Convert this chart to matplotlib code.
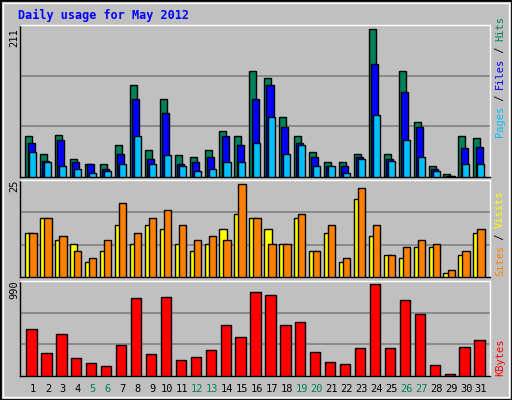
import numpy as np
import matplotlib.pyplot as plt
from matplotlib.patches import Rectangle

# dados
dias = list(range(1, 32))
hits = [58, 33, 60, 26, 19, 18, 46, 132, 39, 111, 31, 28, 38, 65, 59, 151,
        142, 86, 58, 35, 22, 21, 33, 211, 33, 152, 78, 15, 4, 58, 55]
files = [49, 23, 53, 22, 18, 11, 33, 112, 25, 91, 18, 22, 28, 59, 46, 112,
         131, 71, 49, 28, 16, 16, 28, 161, 25, 122, 71, 11, 2, 42, 43]
pages = [36, 22, 15, 11, 6, 9, 19, 58, 18, 31, 15, 9, 11, 21, 21, 48,
         85, 33, 45, 15, 15, 5, 25, 88, 23, 53, 28, 9, 1, 18, 19]
sites = [12, 16, 10, 9, 4, 7, 14, 9, 14, 13, 9, 7, 9, 13, 17, 16,
         13, 9, 16, 7, 12, 4, 21, 11, 6, 5, 8, 8, 1, 6, 12]
visits = [12, 16, 11, 7, 5, 10, 20, 12, 16, 18, 14, 10, 11, 10, 25, 16,
          9, 9, 17, 7, 14, 5, 24, 14, 6, 8, 10, 9, 2, 7, 13]
kbytes = [513, 253, 459, 199, 145, 112, 340, 838, 242, 849, 177, 210, 285,
          546, 416, 903, 871, 556, 578, 264, 155, 134, 307, 990, 307, 817,
          665, 123, 25, 318, 394]
fim_semana = [5, 6, 12, 13, 19, 20, 26, 27]

W, H = 512, 400
BG = "#C0C0C0"
fig = plt.figure(figsize=(W / 100, H / 100), dpi=100, facecolor=BG)

# moldura
fig.patches.append(Rectangle((0, 0), 1, 1, transform=fig.transFigure,
                             fill=False, ec="black", lw=2))
fig.patches.append(Rectangle((3 / W, 3 / H), 1 - 6 / W, 1 - 6 / H,
                             transform=fig.transFigure, fill=False, ec="white", lw=1))

def eixo(top, bottom):
    ax = fig.add_axes([20 / W, 1 - bottom / H, 470 / W, (bottom - top) / H])
    ax.set_facecolor(BG)
    ax.set_xlim(0.13, 31.6)
    ax.set_xticks([])
    ax.set_yticks([])
    for s in ax.spines.values():
        s.set_color("black")
        s.set_linewidth(1)
    ax.spines["top"].set_color("white")
    ax.spines["right"].set_color("white")
    return ax

x = np.array(dias)
kw = dict(edgecolor="black", linewidth=1, zorder=3)

# painel 1 — hits / files / pages
ax1 = eixo(25, 177)
ax1.set_ylim(0, 217)
ax1.bar(x - 0.28, hits, 0.47, color="#00805C", **kw)
ax1.bar(x - 0.13, files, 0.47, color="#0000FF", **kw)
ax1.bar(x - 0.01, pages, 0.47, color="#00C0FF", **kw)

# painel 2 — sites / visits
ax2 = eixo(180, 277)
ax2.set_ylim(0, 26.2)
ax2.bar(x - 0.27, sites, 0.49, color="#FFFF00", **kw)
ax2.bar(x + 0.0, visits, 0.49, color="#FF8000", **kw)

# painel 3 — kbytes
ax3 = eixo(281, 376)
ax3.set_ylim(0, 1026)
ax3.bar(x - 0.1, kbytes, 0.69, color="#FF0000", **kw)

for ax in (ax1, ax2, ax3):
    for f in (1 / 3, 2 / 3):
        ax.axhline(ax.get_ylim()[1] * f, color="#808080", lw=1.2, zorder=1)

mono = "DejaVu Sans Mono"
fig.text(18 / W, 1 - 15 / H, "Daily usage for May 2012", color="#0000FF",
         fontsize=8.5, fontweight="bold", family=mono, va="center")

for ax, lbl, ytop in ((ax1, "211", 38), (ax2, "25", 186), (ax3, "990", 290)):
    fig.text(14 / W, 1 - ytop / H, lbl, rotation=90, fontsize=7.5, family=mono,
             ha="center", va="center")

def rotulo(partes, ybot):
    y = ybot
    for txt, cor in partes:
        t = fig.text(500 / W, 1 - y / H, txt, rotation=90, color=cor, fontsize=7.5,
                     family=mono, ha="center", va="bottom")
        y -= len(txt) * 6.0

rotulo([("Pages", "#00C0FF"), (" / ", "#000000"), ("Files", "#0000FF"),
        (" / ", "#000000"), ("Hits", "#00805C")], 137)
rotulo([("Sites", "#FF8000"), (" / ", "#000000"), ("Visits", "#FFFF00")], 276)
rotulo([("KBytes", "#FF0000")], 376)

for d in dias:
    cor = "#00805C" if d in fim_semana else "black"
    xp = ax3.transData.transform((d, 0))[0]
    fig.text(xp / fig.dpi / fig.get_figwidth(), 1 - 389 / H, str(d), color=cor,
             fontsize=7.5, family=mono, ha="center", va="center")

fig.savefig("out.png", dpi=100, facecolor=BG)
